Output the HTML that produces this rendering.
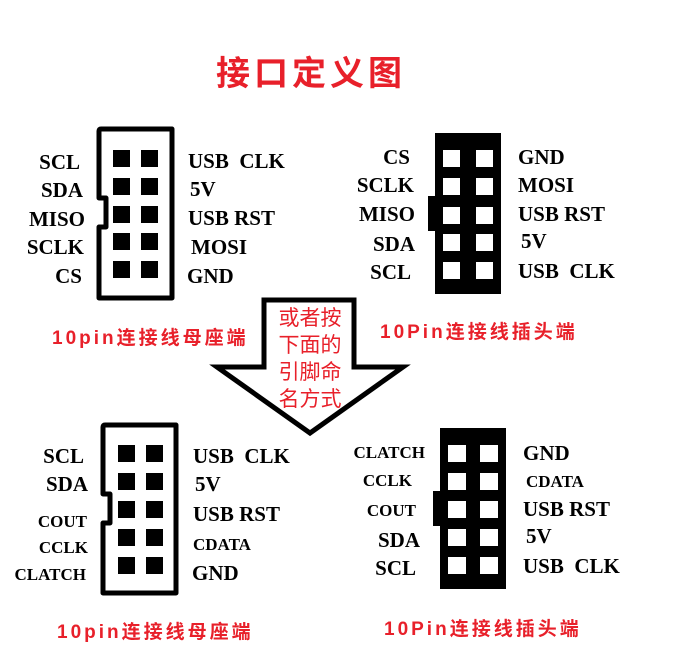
<!DOCTYPE html>
<html><head><meta charset="utf-8"><style>
html,body{margin:0;padding:0;background:#fff;}
svg{display:block;}
text{white-space:pre;}
.l{font-family:"Liberation Serif",serif;font-weight:bold;font-size:21px;fill:#000;}
.s{font-family:"Liberation Serif",serif;font-weight:bold;font-size:17px;fill:#000;}
.r{font-family:"Liberation Sans","Noto Sans CJK SC",sans-serif;font-weight:bold;font-size:19px;fill:#e8202a;letter-spacing:3px;}
.t{font-family:"Liberation Sans","Noto Sans CJK SC",sans-serif;font-weight:bold;font-size:34px;fill:#e8202a;letter-spacing:4px;}
.a{font-family:"Liberation Sans","Noto Sans CJK SC",sans-serif;font-size:21px;fill:#e8202a;}
</style></head><body>
<svg width="674" height="672" viewBox="0 0 674 672" xmlns="http://www.w3.org/2000/svg" xml:space="preserve">
<text class="t" x="216" y="85">接口定义图</text>

<path d="M99,131 Q99,129 101,129 H172 V298 H99 V227 H106 V198 H99 Z" fill="none" stroke="#000" stroke-width="5" stroke-linejoin="round"/>
<g fill="#000">
<rect x="113" y="150" width="17" height="17"/><rect x="141" y="150" width="17" height="17"/>
<rect x="113" y="178" width="17" height="17"/><rect x="141" y="178" width="17" height="17"/>
<rect x="113" y="206" width="17" height="17"/><rect x="141" y="206" width="17" height="17"/>
<rect x="113" y="233" width="17" height="17"/><rect x="141" y="233" width="17" height="17"/>
<rect x="113" y="261" width="17" height="17"/><rect x="141" y="261" width="17" height="17"/>
</g>
<g class="l" text-anchor="end">
<text x="80" y="169">SCL</text><text x="83" y="197">SDA</text><text x="85" y="226">MISO</text><text x="84" y="254">SCLK</text><text x="82" y="283">CS</text>
</g>
<g class="l">
<text x="188" y="168">USB  CLK</text><text x="190" y="196">5V</text><text x="188" y="225">USB RST</text><text x="191" y="254">MOSI</text><text x="187" y="283">GND</text>
</g>
<text class="r" x="52" y="344">10pin连接线母座端</text>

<path d="M435,133 H501 V294 H435 V231 H428 V196 H435 Z" fill="#000"/>
<g fill="#fff">
<rect x="443" y="150" width="17" height="17"/><rect x="476" y="150" width="17" height="17"/>
<rect x="443" y="178" width="17" height="17"/><rect x="476" y="178" width="17" height="17"/>
<rect x="443" y="207" width="17" height="17"/><rect x="476" y="207" width="17" height="17"/>
<rect x="443" y="234" width="17" height="17"/><rect x="476" y="234" width="17" height="17"/>
<rect x="443" y="262" width="17" height="17"/><rect x="476" y="262" width="17" height="17"/>
</g>
<g class="l" text-anchor="end">
<text x="410" y="164">CS</text><text x="414" y="192">SCLK</text><text x="415" y="221">MISO</text><text x="415" y="251">SDA</text><text x="411" y="279">SCL</text>
</g>
<g class="l">
<text x="518" y="164">GND</text><text x="518" y="192">MOSI</text><text x="518" y="221">USB RST</text><text x="521" y="248">5V</text><text x="518" y="278">USB  CLK</text>
</g>
<text class="r" x="380" y="338">10Pin连接线插头端</text>

<path d="M264,300 H354 V367 H403 L310,433 L217,367 H264 Z" fill="#fff" stroke="#000" stroke-width="5" stroke-linejoin="miter"/>
<g class="a" text-anchor="middle">
<text x="310" y="325">或者按</text><text x="310" y="352">下面的</text><text x="310" y="379">引脚命</text><text x="310" y="406">名方式</text>
</g>

<path d="M103,427 Q103,425 105,425 H176 V593 H103 V523 H110 V494 H103 Z" fill="none" stroke="#000" stroke-width="5" stroke-linejoin="round"/>
<g fill="#000">
<rect x="118" y="445" width="17" height="17"/><rect x="146" y="445" width="17" height="17"/>
<rect x="118" y="473" width="17" height="17"/><rect x="146" y="473" width="17" height="17"/>
<rect x="118" y="501" width="17" height="17"/><rect x="146" y="501" width="17" height="17"/>
<rect x="118" y="529" width="17" height="17"/><rect x="146" y="529" width="17" height="17"/>
<rect x="118" y="557" width="17" height="17"/><rect x="146" y="557" width="17" height="17"/>
</g>
<g text-anchor="end">
<text class="l" x="84" y="463">SCL</text><text class="l" x="88" y="491">SDA</text>
<text class="s" x="87" y="527">COUT</text><text class="s" x="88" y="553">CCLK</text><text class="s" x="86" y="580">CLATCH</text>
</g>
<g>
<text class="l" x="193" y="463">USB  CLK</text><text class="l" x="195" y="491">5V</text><text class="l" x="193" y="521">USB RST</text>
<text class="s" x="193" y="550">CDATA</text><text class="l" x="192" y="580">GND</text>
</g>
<text class="r" x="57" y="638">10pin连接线母座端</text>

<path d="M440,428 H506 V589 H440 V526 H433 V491 H440 Z" fill="#000"/>
<g fill="#fff">
<rect x="448" y="445" width="18" height="17"/><rect x="480" y="445" width="18" height="17"/>
<rect x="448" y="473" width="18" height="17"/><rect x="480" y="473" width="18" height="17"/>
<rect x="448" y="501" width="18" height="17"/><rect x="480" y="501" width="18" height="17"/>
<rect x="448" y="529" width="18" height="17"/><rect x="480" y="529" width="18" height="17"/>
<rect x="448" y="557" width="18" height="17"/><rect x="480" y="557" width="18" height="17"/>
</g>
<g text-anchor="end">
<text class="s" x="425" y="458">CLATCH</text><text class="s" x="412" y="486">CCLK</text><text class="s" x="416" y="516">COUT</text>
<text class="l" x="420" y="547">SDA</text><text class="l" x="416" y="575">SCL</text>
</g>
<g>
<text class="l" x="523" y="460">GND</text><text class="s" x="526" y="487">CDATA</text><text class="l" x="523" y="516">USB RST</text>
<text class="l" x="526" y="543">5V</text><text class="l" x="523" y="573">USB  CLK</text>
</g>
<text class="r" x="384" y="635">10Pin连接线插头端</text>
</svg>
</body></html>
